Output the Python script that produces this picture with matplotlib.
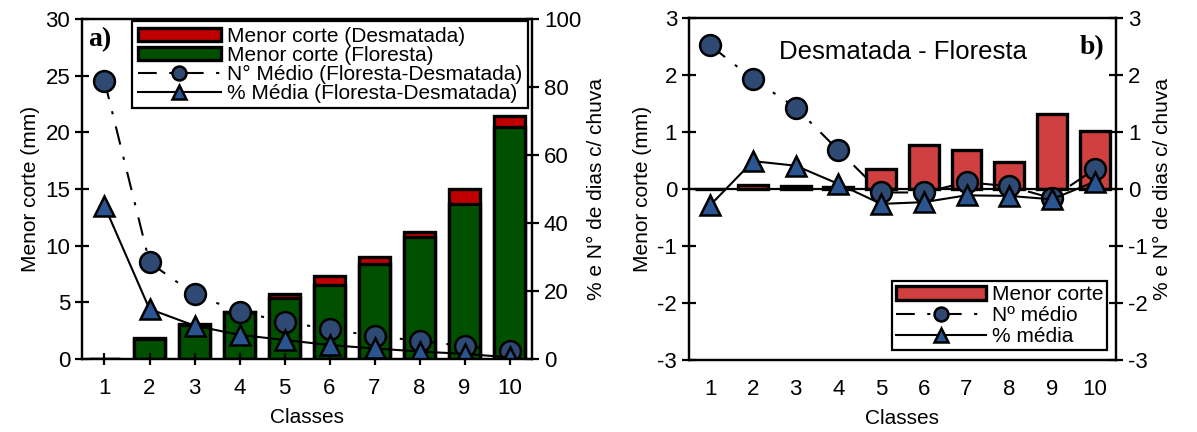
import matplotlib.pyplot as plt
import numpy as np

plt.rcParams['font.family'] = ['Liberation Sans', 'DejaVu Sans']
plt.rcParams['axes.unicode_minus'] = False

classes = [1, 2, 3, 4, 5, 6, 7, 8, 9, 10]

# panel a) - menor corte (mm)
floresta = [0.03, 1.75, 3.0, 4.15, 5.4, 6.55, 8.35, 10.75, 13.7, 20.45]
desmatada = [0.03, 1.83, 3.05, 4.18, 5.75, 7.32, 9.03, 11.23, 15.02, 21.47]
# % e N de dias c/ chuva
n_medio_a = [81.8, 28.4, 19.0, 13.9, 11.0, 8.7, 6.8, 5.3, 3.8, 2.4]
pct_media_a = [45.0, 14.7, 9.8, 7.1, 5.6, 4.1, 3.1, 2.2, 1.5, 0.5]

# panel b) - Desmatada - Floresta
diff_corte = [0.0, 0.08, 0.05, 0.03, 0.35, 0.77, 0.68, 0.48, 1.32, 1.02]
n_medio_b = [2.52, 1.93, 1.43, 0.68, -0.06, -0.06, 0.12, 0.05, -0.16, 0.35]
pct_media_b = [-0.28, 0.49, 0.41, 0.09, -0.26, -0.23, -0.11, -0.12, -0.18, 0.13]

GREEN = '#005000'
RED_A = '#c00000'
RED_B = '#d04040'
CIRC = '#2e4a73'
TRI = '#2b5590'
FS = 16
LFS = 15
dashdot = (0, (9, 6, 1.5, 6))

fig = plt.figure(figsize=(11.97, 4.32), dpi=100)
ax = fig.add_axes([0.0685, 0.169, 0.376, 0.787])
bx = fig.add_axes([0.5756, 0.1667, 0.3567, 0.7913])


def style(a, twin):
    for s in a.spines.values():
        s.set_linewidth(1.6)
    a.tick_params(axis='y', direction='inout', length=10, width=1.6, labelsize=FS)
    twin.tick_params(axis='y', direction='inout', length=10, width=1.6, labelsize=FS)
    for s in twin.spines.values():
        s.set_linewidth(1.6)


# ---------------- a) ----------------
x = np.array(classes)
bd = ax.bar(x, desmatada, width=0.68, color=RED_A, edgecolor='k', linewidth=2.4,
            label='Menor corte (Desmatada)')
bf = ax.bar(x, floresta, width=0.68, color=GREEN, edgecolor='k', linewidth=2.4,
            label='Menor corte (Floresta)')
ax.set_xlim(0.5, 10.5)
ax.set_ylim(0, 30)
ax.set_yticks(range(0, 31, 5))
ax.set_xticks(classes)
ax.tick_params(axis='x', direction='inout', length=8, width=1.6, labelsize=FS, pad=10)
ax.set_xlabel('Classes', fontsize=LFS, labelpad=6)
ax.set_ylabel('Menor corte (mm)', fontsize=LFS, labelpad=4)

ax2 = ax.twinx()
ln1, = ax2.plot(x, n_medio_a, linestyle=dashdot, color='k', lw=1.5, marker='o',
                ms=15, mfc=CIRC, mec='k', mew=1.8, label='N° Médio (Floresta-Desmatada)')
ln2, = ax2.plot(x, pct_media_a, linestyle='-', color='k', lw=1.5, marker='^',
                ms=15, mfc=TRI, mec='k', mew=1.8, label='% Média (Floresta-Desmatada)')
ax2.set_ylim(0, 100)
ax2.set_yticks(range(0, 101, 20))
ax2.set_ylabel('% e N° de dias c/ chuva', fontsize=LFS, labelpad=4)
style(ax, ax2)
ax2.set_xlim(0.5, 10.5)

leg = ax2.legend(handles=[bd, bf, ln1, ln2], loc='upper right', bbox_to_anchor=(0.99, 0.993),
                 fontsize=15, handlelength=4.0, handleheight=0.6, labelspacing=0.0,
                 borderpad=0.25, handletextpad=0.3, fancybox=False, framealpha=1,
                 edgecolor='k', borderaxespad=0)
leg.get_frame().set_linewidth(1.6)
for h in leg.legend_handles[2:]:
    h.set_markersize(10)
ax.text(0.013, 0.94, 'a)', transform=ax.transAxes, fontsize=20, fontweight='bold',
        family='Liberation Serif', va='center')

# ---------------- b) ----------------
bb = bx.bar(x, diff_corte, width=0.7, color=RED_B, edgecolor='k', linewidth=2.4,
            label='Menor corte')
bx.axhline(0, color='k', lw=1.6, zorder=1)
bx.set_xlim(0.5, 10.5)
bx.set_ylim(-3, 3)
bx.set_yticks(range(-3, 4))
bx.set_xticks(classes)
bx.tick_params(axis='x', length=0, labelsize=FS, pad=14)
bx.set_xlabel('Classes', fontsize=LFS, labelpad=6)
bx.set_ylabel('Menor corte (mm)', fontsize=LFS, labelpad=4)

bx2 = bx.twinx()
lb1, = bx2.plot(x, n_medio_b, linestyle=dashdot, color='k', lw=1.5, marker='o',
                ms=15, mfc=CIRC, mec='k', mew=1.8, label='Nº médio')
lb2, = bx2.plot(x, pct_media_b, linestyle='-', color='k', lw=1.5, marker='^',
                ms=15, mfc=TRI, mec='k', mew=1.8, label='% média')
bx2.set_ylim(-3, 3)
bx2.set_yticks(range(-3, 4))
bx2.set_ylabel('% e N° de dias c/ chuva', fontsize=LFS, labelpad=4)
style(bx, bx2)
bx2.set_xlim(0.5, 10.5)

legb = bx2.legend(handles=[bb, lb1, lb2], loc='lower right', bbox_to_anchor=(0.98, 0.03),
                  fontsize=LFS, handlelength=4.3, handleheight=0.6, labelspacing=0.08,
                  borderpad=0.2, handletextpad=0.3, fancybox=False, framealpha=1,
                  edgecolor='k', borderaxespad=0)
legb.get_frame().set_linewidth(1.6)
for h in legb.legend_handles[1:]:
    h.set_markersize(10)
bx.text(0.5, 0.9, 'Desmatada - Floresta', transform=bx.transAxes, fontsize=18.5,
        ha='center', va='center')
bx.text(0.945, 0.915, 'b)', transform=bx.transAxes, fontsize=20, fontweight='bold',
        family='Liberation Serif', va='center', ha='center')

fig.savefig('out.png', dpi=100)
